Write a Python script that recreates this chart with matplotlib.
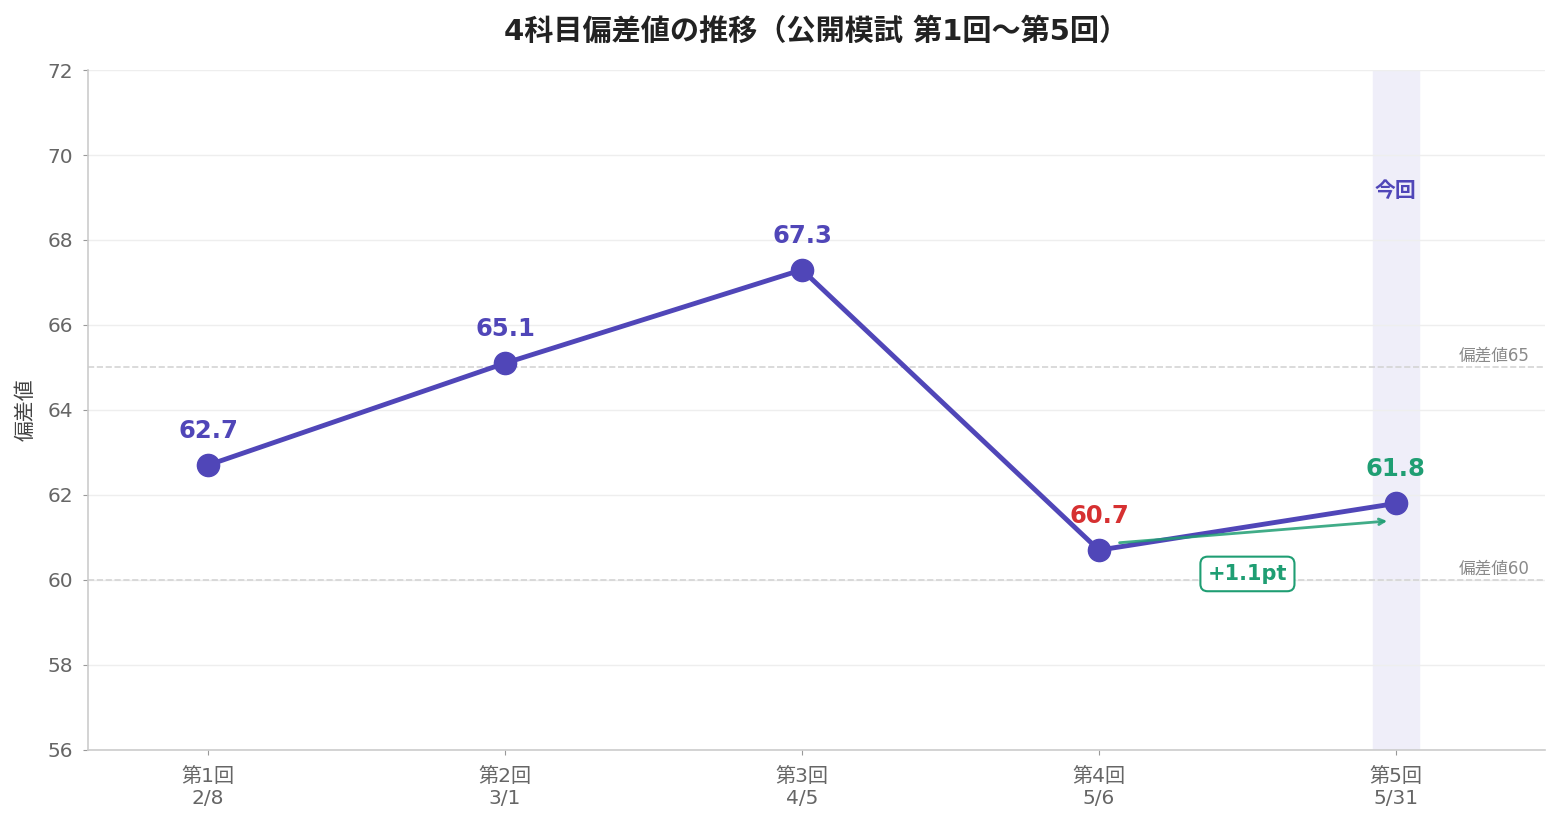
import matplotlib
matplotlib.use("Agg")
import matplotlib.pyplot as plt

plt.rcParams['font.family'] = ['DejaVu Sans', 'Noto Sans CJK JP']

rounds = ['第1回\n2/8', '第2回\n3/1', '第3回\n4/5', '第4回\n5/6', '第5回\n5/31']
scores = [62.7, 65.1, 67.3, 60.7, 61.8]
label_colors = ['#5046b8', '#5046b8', '#5046b8', '#d63031', '#1f9e73']
ref_lines = [65, 60]

main = '#5046b8'
green = '#1f9e73'

fig, ax = plt.subplots(figsize=(15.6, 8.24), dpi=100)
x = list(range(len(scores)))

ax.axvspan(4 - 0.076, 4 + 0.076, color='#efeef9', zorder=0)
for r in ref_lines:
    ax.axhline(r, color='#d4d4d4', linestyle='--', linewidth=1.2, zorder=1)
    ax.text(4.45, r + 0.06, f'偏差値{r}', ha='right', va='bottom',
            fontsize=12, color='#8a8a8a')

ax.plot(x, scores, color=main, linewidth=3.5, marker='o', markersize=16, zorder=3)

for xi, s, c in zip(x, scores, label_colors):
    ax.annotate(f'{s}', xy=(xi, s), xytext=(0, 16), textcoords='offset points',
                ha='center', va='bottom', fontsize=17.5, fontweight='bold', color=c)

ax.text(4, 69.15, '今回', ha='center', va='center', fontsize=15,
        fontweight='bold', color=main)

ax.annotate('', xy=(3.98, 61.39), xytext=(3.06, 60.87),
            arrowprops=dict(arrowstyle='->', color=green, lw=2, alpha=0.85))
ax.text(3.5, 60.14, f'+{scores[4] - scores[3]:.1f}pt', ha='center', va='center',
        fontsize=15, fontweight='bold', color=green,
        bbox=dict(boxstyle='round,pad=0.35', fc='white', ec=green, lw=1.5))

ax.set_xlim(-0.404, 4.502)
ax.set_ylim(56, 72)
ax.set_yticks(range(56, 73, 2))
ax.set_xticks(x)
ax.set_xticklabels(rounds, linespacing=1.2)
ax.tick_params(axis='both', labelsize=14.5, colors='#666666', pad=7)
ax.tick_params(axis='x', pad=9)
ax.tick_params(axis='both', color='#999999')
ax.set_ylabel('偏差値', fontsize=15, color='#444444', labelpad=9)
ax.grid(axis='y', color='#eeeeee', linewidth=1)
ax.set_axisbelow(True)
for side in ['top', 'right']:
    ax.spines[side].set_visible(False)
for side in ['left', 'bottom']:
    ax.spines[side].set_color('#cccccc')
    ax.spines[side].set_linewidth(1.2)

ax.set_title('4科目偏差値の推移（公開模試 第1回〜第5回）', fontsize=21,
             fontweight='bold', color='#222222', pad=22)

fig.subplots_adjust(left=0.0564, right=0.9904, top=0.915, bottom=0.09)
fig.savefig('out.png', dpi=100)
